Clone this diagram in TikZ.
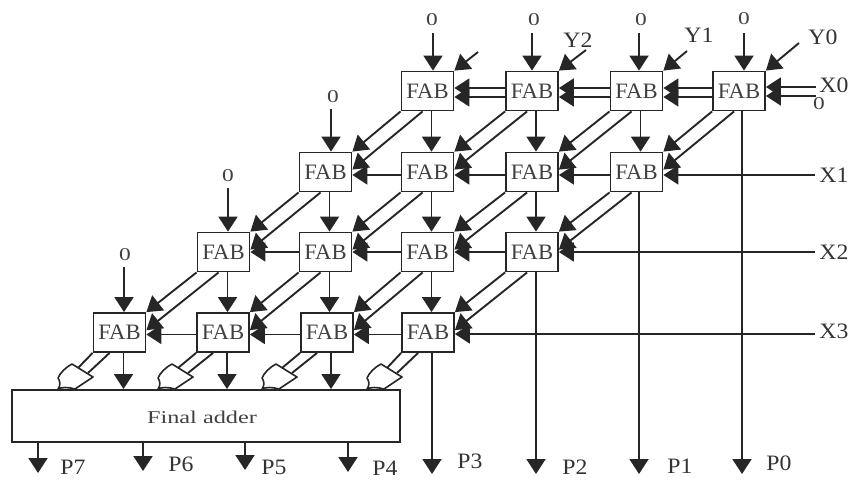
\documentclass[tikz,border=0pt]{standalone}
\usepackage{fontspec}
\setmainfont{Liberation Serif}
\usetikzlibrary{arrows.meta}
\tikzset{
  fab/.style={draw=black!85,line width=1.8pt,fill=white,minimum width=52pt,minimum height=39pt,inner sep=0pt},
  fabtext/.style={inner sep=0pt,font=\fontsize{22}{22}\selectfont,text=black!75,xscale=1.03},
  wire/.style={draw=black!85,line width=1.9pt},
  arr/.style={wire,-{Triangle[length=15pt,width=19pt]}},
  lab/.style={inner sep=0pt,font=\fontsize{22}{22}\selectfont,text=black!80,xscale=1.08},
  zero/.style={inner sep=0pt,font=\fontsize{18}{18}\selectfont,text=black!75,xscale=1.3},
  gate/.style={draw=black!85,line width=1.6pt,fill=white,line join=round}
}
\begin{document}
\begin{tikzpicture}[x=1pt,y=-1pt]
\useasboundingbox (0,0) rectangle (858,479);
% boxes
\foreach \n/\x/\y in {a1/427.5/91,a2/532/91,a3/636.5/91,a4/739/91,
  b1/325.5/172,b2/427.5/172,b3/532/172,b4/636.5/172,
  c1/223.5/252,c2/325.5/252,c3/427.5/252,c4/532/252,
  d1/119.5/332.5,d2/223/332.5,d3/327/332.5,d4/428/332.5}
  \node[fab] (\n) at (\x,\y) {};
\node[draw=black!85,line width=1.9pt,minimum width=388pt,minimum height=52pt,inner sep=0pt] (adder) at (206,416) {};
\node[inner sep=0pt,font=\fontsize{18}{18}\selectfont,text=black!75,xscale=1.35] (addertext) at (202,417) {Final adder};
% free-end coordinates
\foreach \n/\x/\y in {ta1/433/33,ta2/532/33,ta3/639/33,ta4/744/33,tb1/331/109,tc1/228/188,td1/124/267,
  ya1/478/52,ya2/586/50,ya3/687/51,ya4/799/43,
  x0a/816/87,x0b/816/96,x1/815/175,x2/815/252,x3/815/334,
  p7a/38/473,p6a/143/471,p5a/245/470,p4a/348/472,p3a/432/474,p2a/536/474,p1a/639/474,p0a/742/474,
  s7/38/442,s6/143/442,s5/245/442,s4/348/442}
  \coordinate (\n) at (\x,\y);
% top inputs
\foreach \a/\b in {ta1/a1,ta2/a2,ta3/a3,ta4/a4,tb1/b1,tc1/c1,td1/d1}
  \draw[arr] (\a) -- (\a |- \b.north);
% Y inputs
\foreach \a/\b in {ya1/a1,ya2/a2,ya3/a3,ya4/a4}
  \draw[arr] (\a) -- (\b.north east);
% vertical between rows
\foreach \a/\b in {a1/b2,a2/b3,a3/b4,b1/c2,b2/c3,b3/c4,c1/d2,c2/d3,c3/d4}
  \draw[arr] ([xshift=4pt]\a.south) -- ([xshift=4pt]\a.south |- \b.north);
% P outputs from the array
\draw[arr] (p0a |- a4.south) -- (p0a);
\draw[arr] (p1a |- b4.south) -- (p1a);
\draw[arr] (p2a |- c4.south) -- (p2a);
\draw[arr] (p3a |- d4.south) -- (p3a);
% to the adder
\foreach \a in {d1,d2,d3}
  \draw[arr] ([xshift=4pt]\a.south) -- ([xshift=4pt]\a.south |- adder.north);
% adder outputs
\foreach \a/\b in {s7/p7a,s6/p6a,s5/p5a,s4/p4a}
  \draw[arr] (\a) -- (\b);
% horizontal row 0
\foreach \a/\b in {a2/a1,a3/a2,a4/a3}{
  \draw[arr] ([yshift=3pt]\a.west) -- ([yshift=3pt]\b.east);
  \draw[arr] ([yshift=-6pt]\a.west) -- ([yshift=-6pt]\b.east);
}
\draw[arr] (x0a) -- (x0a -| a4.east);
\draw[arr] (x0b) -- (x0b -| a4.east);
% horizontal other rows
\foreach \a/\b in {b2/b1,b3/b2,b4/b3}
  \draw[arr] ([yshift=-3pt]\a.west) -- ([yshift=-3pt]\b.east);
\foreach \a/\b in {c2/c1,c3/c2,c4/c3}
  \draw[arr] (\a.west) -- (\b.east);
\foreach \a/\b in {d2/d1,d3/d2,d4/d3}
  \draw[arr] ([yshift=-2pt]\a.west) -- ([yshift=-2pt]\b.east);
\draw[arr] (x1) -- (x1 -| b4.east);
\draw[arr] (x2) -- (x2 -| c4.east);
\draw[arr] (x3) -- (x3 -| d4.east);
% diagonal pairs
\foreach \a/\b in {a1/b1,a2/b2,a3/b3,a4/b4,b1/c1,b2/c2,b3/c3,b4/c4,c1/d1,c2/d2,c3/d3,c4/d4}{
  \draw[arr] (\a.south west) -- (\b.north east);
  \draw[arr] ([xshift=22pt]\a.south west) -- ([yshift=-18pt]\b.north east);
}
% FAB captions on top of the arrow ends
\foreach \n in {a1,a2,a3,a4,b1,b2,b3,b4,c1,c2,c3,c4,d1,d2,d3,d4}
  \node[fabtext] (\n t) at (\n) {FAB};
% gates
\foreach \g/\gx in {d1/58,d2/158,d3/262,d4/367}{
  \begin{scope}[shift={(\gx,378)}]
    \coordinate (g1) at (20,-10);
    \coordinate (g2) at (30,-5);
    \draw[wire] (\g.south west) -- (g1);
    \draw[wire] ([xshift=17pt]\g.south west) -- (g2);
    \draw[gate] (0,0) .. controls (2,-5) and (8,-11) .. (14,-14) -- (35,-1) -- (17,11) .. controls (10,9) and (4,9) .. (0,11) .. controls (3,7) and (2,3) .. (0,0) -- cycle;
  \end{scope}
}
% labels
\foreach \n/\x/\y in {z1/432/20,z2/534/20,z3/641/20,z4/744/19,z5/333/97,z6/228/176,z7/125/255,z8/819/104}
  \node[zero] (\n) at (\x,\y) {0};
\foreach \n/\x/\y/\t in {lx0/834/85/X0,lx1/834/175/X1,lx2/834/252/X2,lx3/834/331/X3,
  ly2/578/40/Y2,ly1/699/35/Y1,ly0/823/37/Y0,
  l7/73/467/P7,l6/181/464/P6,l5/274/467/P5,l4/385/468/P4,l3/470/461/P3,l2/575/467/P2,l1/680/466/P1,l0/779/463/P0}
  \node[lab] (\n) at (\x,\y) {\t};
\end{tikzpicture}
\end{document}
